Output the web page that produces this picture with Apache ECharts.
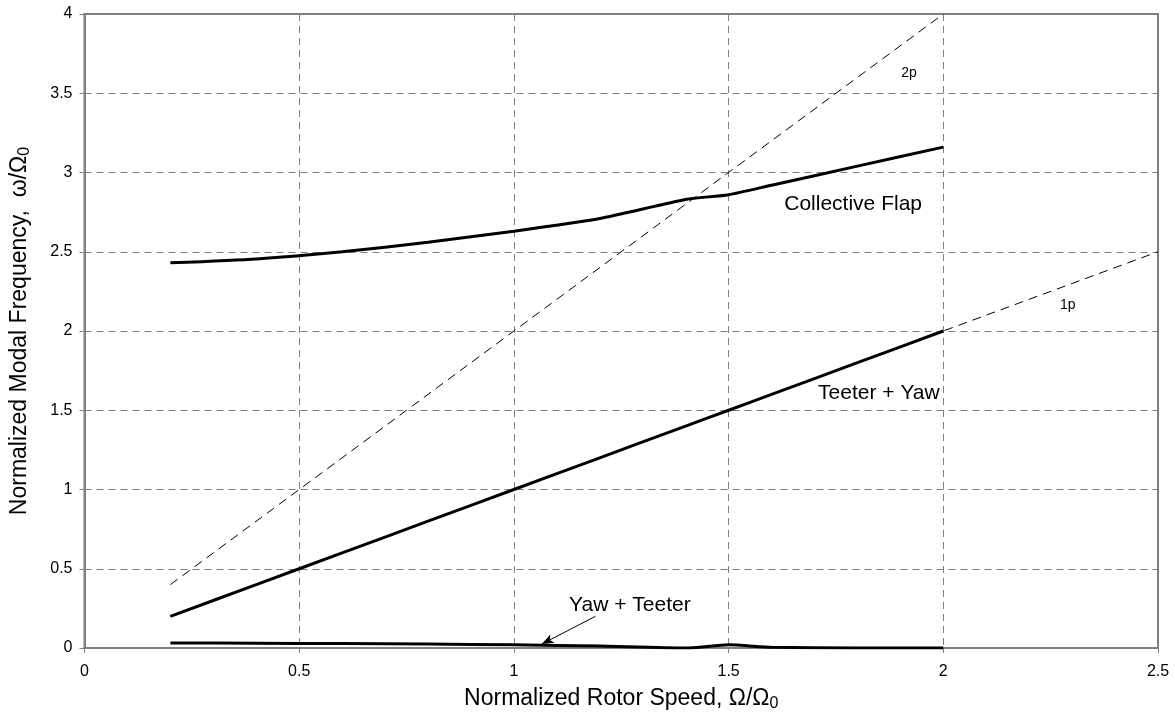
<!DOCTYPE html>
<html>
<head>
<meta charset="utf-8">
<title>Modal frequencies vs rotor speed</title>
<script src="https://cdn.jsdelivr.net/npm/echarts@6/dist/echarts.min.js"></script>
<style>
    html, body { margin: 0; padding: 0; background: #fff; }
    #modal_chart { width: 1175px; height: 725px; }
</style>
</head>
<body>
<div id="modal_chart"></div>
<script>

// Chart data
// ------------------------------

// Rotor speed samples (Omega / Omega0)
var rotorSpeed = [0.2, 0.4, 0.6, 0.8, 1.0, 1.2, 1.4, 1.5, 1.6, 1.8, 2.0];

// Mode frequencies (omega / Omega0)
var collectiveFlap = [2.43, 2.455, 2.50, 2.56, 2.63, 2.71, 2.83, 2.86, 2.92, 3.04, 3.16];
var teeterYaw      = [0.2, 0.4, 0.6, 0.8, 1.0, 1.2, 1.4, 1.5, 1.6, 1.8, 2.0];
var yawTeeter      = [0.032, 0.03, 0.028, 0.025, 0.02, 0.012, 0.0, 0.02, 0.005, 0.0, 0.0];

// Per-rev reference lines
var line1pX = [0.2, 2.5];
var line1pY = [0.2, 2.5];
var line2pX = [0.2, 2.0];
var line2pY = [0.4, 4.0];

// Axis ticks
var xTicks = [0, 0.5, 1, 1.5, 2, 2.5];
var yTicks = [0, 0.5, 1, 1.5, 2, 2.5, 3, 3.5, 4];

// Text labels placed in data space
var labelNames = ['Collective Flap', 'Teeter + Yaw', '2p', '1p', 'Yaw + Teeter'];
var labelX     = [1.79, 1.85, 1.92, 2.29, 1.27];
var labelY     = [2.80, 1.61, 3.63, 2.16, 0.27];

// Arrow from "Yaw + Teeter" label to the curve
var arrowFrom = [1.19, 0.20];
var arrowTo   = [1.065, 0.025];


var EchartsModalFrequency = function() {

    var pair = function(xs, ys) {
        return xs.map(function(x, i) { return [x, ys[i]]; });
    };

    var _modalChart = function() {
        if (typeof echarts == 'undefined') {
            console.warn('Warning - echarts.min.js is not loaded.');
            return;
        }

        var element = document.getElementById('modal_chart');
        if (!element) return;

        var chart = echarts.init(element, null, { renderer: 'canvas' });

        var font = '"Liberation Sans Narrow", "Liberation Sans", Arial, sans-serif';
        var gray = '#808080';

        var solidLine = function(name, ys) {
            return {
                name: name,
                type: 'line',
                data: pair(rotorSpeed, ys),
                showSymbol: false,
                smooth: 0.2,
                lineStyle: { color: '#000', width: 3 },
                z: 5
            };
        };

        var dashedLine = function(name, xs, ys) {
            return {
                name: name,
                type: 'line',
                data: pair(xs, ys),
                showSymbol: false,
                lineStyle: { color: '#000', width: 1, type: [9, 6] },
                z: 3
            };
        };

        // Free text labels, drawn as invisible scatter points
        var textSeries = {
            name: 'labels',
            type: 'scatter',
            symbolSize: 0,
            silent: true,
            itemStyle: { opacity: 1 },
            data: labelNames.map(function(n, i) {
                return {
                    value: [labelX[i], labelY[i]],
                    label: {
                        color: '#000',
                        fontSize: (n.length <= 2) ? 14 : 21
                    }
                };
            }),
            label: {
                show: true,
                position: 'inside',
                color: '#000',
                opacity: 1,
                textBorderWidth: 0,
                fontFamily: font,
                formatter: function(p) { return labelNames[p.dataIndex]; }
            },
            z: 6
        };

        var yawSeries = solidLine('Yaw + Teeter', yawTeeter);
        yawSeries.markLine = {
            silent: true,
            symbol: ['none', 'arrow'],
            symbolSize: [7, 12],
            label: { show: false },
            lineStyle: { color: '#000', width: 1, type: 'solid' },
            data: [[ { coord: arrowFrom }, { coord: arrowTo } ]]
        };

        var titleRich = {
            t: { fontSize: 23, color: '#000', fontFamily: font },
            s: { fontSize: 16, color: '#000', fontFamily: font, padding: [10, 0, 0, 0] }
        };

        chart.setOption({
            animation: false,
            backgroundColor: '#fff',
            textStyle: { fontFamily: font },

            grid: {
                left: 83,
                right: 17,
                top: 14,
                bottom: 77,
                show: true,
                borderColor: gray,
                borderWidth: 2
            },

            xAxis: {
                type: 'value',
                min: xTicks[0],
                max: xTicks[xTicks.length - 1],
                interval: 0.5,
                name: '{t|Normalized Rotor Speed, \u03A9/\u03A9}{s|0}',
                nameLocation: 'middle',
                nameGap: 38,
                nameTextStyle: { rich: titleRich },
                axisLine: { show: true, onZero: false, lineStyle: { color: gray, width: 2 } },
                axisTick: { show: true, length: 5, lineStyle: { color: gray, width: 1 } },
                axisLabel: { color: '#000', fontSize: 16, margin: 16 },
                splitLine: { show: true, lineStyle: { color: gray, width: 1, type: [7, 5] } }
            },

            yAxis: {
                type: 'value',
                min: yTicks[0],
                max: yTicks[yTicks.length - 1],
                interval: 0.5,
                name: '{t|Normalized Modal Frequency,  \u03C9/\u03A9}{s|0}',
                nameLocation: 'middle',
                nameGap: 52,
                nameTextStyle: { rich: titleRich },
                axisLine: { show: true, lineStyle: { color: gray, width: 2 } },
                axisTick: { show: true, length: 5, lineStyle: { color: gray, width: 1 } },
                axisLabel: { color: '#000', fontSize: 16, margin: 12 },
                splitLine: { show: true, lineStyle: { color: gray, width: 1, type: [7, 5] } }
            },

            series: [
                dashedLine('1p', line1pX, line1pY),
                dashedLine('2p', line2pX, line2pY),
                solidLine('Collective Flap', collectiveFlap),
                solidLine('Teeter + Yaw', teeterYaw),
                yawSeries,
                textSeries
            ]
        });

        window.addEventListener('resize', function() {
            chart.resize();
        });
    };

    return {
        init: function() {
            _modalChart();
        }
    }
}();


document.addEventListener('DOMContentLoaded', function() {
    EchartsModalFrequency.init();
});
</script>
</body>
</html>
